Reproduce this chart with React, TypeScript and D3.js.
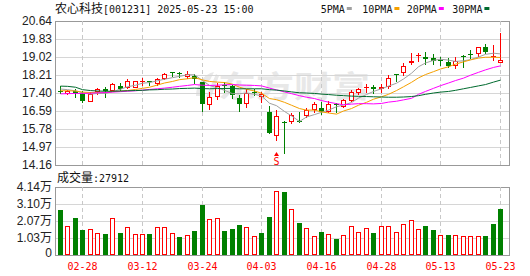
import React from "react";
import * as d3 from "d3";

const dates = [
  "02-25","02-26","02-27","02-28","03-03","03-04","03-05","03-06","03-07","03-10",
  "03-11","03-12","03-13","03-14","03-17","03-18","03-19","03-20","03-21","03-24",
  "03-25","03-26","03-27","03-28","03-31","04-01","04-02","04-03","04-07","04-08",
  "04-09","04-10","04-11","04-14","04-15","04-16","04-17","04-18","04-21","04-22",
  "04-23","04-24","04-25","04-28","04-29","04-30","05-06","05-07","05-08","05-09",
  "05-12","05-13","05-14","05-15","05-16","05-19","05-20","05-21","05-22","05-23",
];

const openP = [
  17.48,17.39,17.48,17.41,17.05,17.47,17.60,17.52,17.71,17.67,
  17.67,17.95,17.95,17.84,18.09,18.33,18.28,18.18,18.15,17.88,
  16.92,17.28,17.74,17.70,17.19,16.94,17.43,17.26,16.56,15.50,
  16.11,16.14,16.16,16.39,16.66,16.71,16.57,16.91,16.83,17.07,
  17.43,17.66,17.68,17.64,17.70,18.25,18.33,18.81,19.11,19.02,
  18.96,18.89,18.81,18.67,19.05,19.15,19.21,19.49,19.06,18.80,
];
const highP = [
  17.73,17.52,17.57,17.49,17.45,17.63,17.66,17.83,17.84,18.01,
  17.96,18.06,17.96,18.06,18.28,18.34,18.36,18.39,18.24,17.91,
  17.43,17.87,17.89,17.76,17.31,17.60,17.60,17.46,16.83,16.63,
  16.13,16.51,16.56,16.74,17.00,16.98,17.02,16.94,17.15,17.52,
  17.64,17.80,17.76,17.80,18.21,18.27,18.74,19.22,19.21,19.23,
  19.14,19.02,18.96,19.00,19.09,19.34,19.47,19.59,19.56,20.09,
];
const lowP = [
  17.41,17.37,17.20,16.99,17.03,17.34,17.23,17.50,17.53,17.63,
  17.65,17.78,17.75,17.76,18.05,18.15,18.14,18.06,17.86,16.60,
  16.67,17.12,17.43,17.17,16.60,16.75,17.33,17.01,15.62,15.28,
  14.71,16.04,16.08,16.33,16.55,16.44,16.53,16.56,16.75,17.03,
  17.34,17.45,17.40,17.44,17.64,17.95,18.23,18.71,18.85,18.69,
  18.69,18.65,18.58,18.51,18.58,18.96,19.05,19.19,18.88,18.78,
];
const closeP = [
  17.43,17.49,17.41,17.05,17.36,17.59,17.50,17.80,17.58,17.92,
  17.94,17.96,17.93,18.02,18.25,18.31,18.26,18.27,18.02,16.92,
  17.23,17.72,17.70,17.29,16.90,17.39,17.41,17.36,15.62,16.37,
  16.08,16.40,16.14,16.63,16.92,16.56,16.89,16.88,17.07,17.46,
  17.57,17.68,17.57,17.67,18.06,18.23,18.62,18.85,19.13,18.92,
  18.85,18.87,18.63,18.85,19.03,19.13,19.46,19.24,19.08,18.89,
];
const volume = [
  27400,17500,22300,15200,15600,13200,12600,22300,13200,16900,
  12600,12600,12600,16900,16900,13200,11000,12000,14600,30400,
  21700,22300,14600,15800,18300,16900,11600,13200,23100,38800,
  38400,27800,19500,16200,11600,14000,12800,9900,12000,17500,
  14000,16200,13400,17500,17500,13800,18700,21100,15800,17700,
  15200,12000,12200,12000,11400,11400,11400,11600,18900,27912,
];
// 1 = up day (red), 0 = down day (green), as coloured in the volume panel
const volUp = [
  0,1,0,0,1,1,0,1,0,1,
  1,1,0,1,1,1,0,1,0,0,
  1,1,0,0,0,1,1,0,0,1,
  0,1,0,1,1,0,1,0,1,1,
  1,1,0,1,1,1,1,1,1,0,
  0,1,0,1,1,1,1,0,0,0,
];
const ma5 = [
  17.58,17.55,17.50,17.41,17.35,17.38,17.38,17.46,17.57,17.68,
  17.75,17.84,17.87,17.95,18.02,18.09,18.15,18.22,18.22,17.96,
  17.74,17.63,17.52,17.37,17.37,17.40,17.34,17.27,16.94,16.83,
  16.57,16.37,16.12,16.32,16.43,16.53,16.63,16.78,16.86,16.97,
  17.17,17.33,17.47,17.59,17.71,17.84,18.03,18.29,18.58,18.75,
  18.87,18.92,18.88,18.82,18.85,18.90,19.02,19.14,19.19,19.16,
];
const ma10 = [
  17.50,17.50,17.49,17.44,17.42,17.43,17.43,17.46,17.48,17.51,
  17.56,17.61,17.66,17.76,17.85,17.92,18.00,18.04,18.09,17.99,
  17.92,17.89,17.87,17.80,17.66,17.57,17.49,17.39,17.15,17.10,
  16.98,16.85,16.70,16.63,16.63,16.55,16.50,16.45,16.59,16.70,
  16.85,16.98,17.12,17.23,17.34,17.51,17.68,17.88,18.08,18.23,
  18.36,18.48,18.58,18.70,18.80,18.89,18.97,19.01,19.01,19.00,
];
const ma20 = [
  17.36,17.37,17.38,17.38,17.39,17.41,17.42,17.44,17.46,17.48,
  17.50,17.53,17.56,17.59,17.62,17.66,17.70,17.74,17.78,17.75,
  17.74,17.75,17.77,17.78,17.76,17.75,17.74,17.72,17.62,17.54,
  17.45,17.37,17.28,17.21,17.15,17.06,16.99,16.92,16.87,16.90,
  16.92,16.92,16.91,16.93,16.99,17.03,17.09,17.16,17.34,17.47,
  17.61,17.73,17.85,17.96,18.07,18.20,18.33,18.44,18.55,18.62,
];
const ma30 = [
  17.71,17.70,17.66,17.55,17.51,17.49,17.48,17.48,17.49,17.50,
  17.51,17.52,17.54,17.55,17.57,17.58,17.60,17.61,17.62,17.60,
  17.59,17.60,17.60,17.60,17.59,17.59,17.59,17.59,17.55,17.53,
  17.49,17.45,17.41,17.40,17.38,17.35,17.33,17.30,17.28,17.26,
  17.25,17.24,17.23,17.22,17.21,17.21,17.22,17.24,17.28,17.34,
  17.40,17.44,17.47,17.52,17.59,17.65,17.72,17.78,17.89,17.98,
];

const priceTicks = [14.16, 14.97, 15.78, 16.59, 17.40, 18.21, 19.02, 19.83, 20.64];
const volTicks = [0, 10350, 20700, 31050, 41400];
const volTickLabels = ["0", "1.03万", "2.07万", "3.10万", "4.14万"];
const xLabels = ["02-28", "03-12", "03-24", "04-03", "04-16", "04-28", "05-13", "05-23"];
const maNames = ["5PMA", "10PMA", "20PMA", "30PMA"];
const titleName = "农心科技";
const titleRest = "[001231] 2025-05-23 15:00";
const volLabel = "成交量";
const volLabelValue = ":27912";
const signalDate = "04-08";
const signalText = "S";
const watermark = "东方财富";

const RED = "#ff0000";
const GREEN = "#008000";
const maColors = ["#a0a0a0", "#f5a000", "#ff00ff", "#006a2e"];
const MONO = "'DejaVu Sans Mono', 'Liberation Mono', monospace";
const CJK = "'Noto Sans CJK SC', sans-serif";
const SANS = "'Liberation Sans', Arial, 'Noto Sans CJK SC', sans-serif";

const L = 55, R = 509, PT = 21, PB = 165, VT = 187, VB = 255;

export default function App() {
  const n = dates.length;
  const x = d3.scaleLinear().domain([0, n - 1]).range([60, 500]);
  const y = d3.scaleLinear().domain([priceTicks[0], priceTicks[priceTicks.length - 1]]).range([PB, PT]);
  const yv = d3.scaleLinear().domain([0, volTicks[volTicks.length - 1]]).range([VB, VT]);
  const cx = (i: number) => Math.round(x(i)) + 0.5;
  const ry = (v: number) => Math.round(y(v));

  const mas = [ma5, ma10, ma20, ma30];
  const line = d3.line<number>().x((_, i) => cx(i)).y((v) => y(v));

  const legendX = [320.7, 362.3, 406.7, 452.3];
  const sIdx = dates.indexOf(signalDate);

  return (
    <div style={{ position: "absolute", left: 0, top: 0 }}>
      <svg width={530} height={276} style={{ display: "block", background: "#fff" }}>
        {/* watermark */}
        <g fill="#e8e8e8">
          <path d="M196,96 C196,84 204,74 214,72 L210,80 C205,82 202,88 203,96 Z M206,97 L216,74 L219,76 L211,97 Z" />
          <text x={218} y={97} fontFamily={CJK} fontSize={30} fontWeight={700} textLength={152} lengthAdjust="spacingAndGlyphs">{watermark}</text>
        </g>

        {/* price grid */}
        {priceTicks.map((t, k) => (
          <line key={"pg" + k} x1={L} x2={R} y1={ry(t) + 0.5} y2={ry(t) + 0.5}
            stroke={k === 0 || k === priceTicks.length - 1 ? "#999" : "#d6d6d6"} shapeRendering="crispEdges" />
        ))}
        {volTicks.map((t, k) => (
          <line key={"vg" + k} x1={L} x2={R} y1={Math.round(yv(t)) + 0.5} y2={Math.round(yv(t)) + 0.5}
            stroke={k === 0 || k === volTicks.length - 1 ? "#999" : "#d6d6d6"} shapeRendering="crispEdges" />
        ))}
        {xLabels.map((d) => {
          const i = dates.indexOf(d);
          return (
            <g key={"vl" + d}>
              <line x1={cx(i)} x2={cx(i)} y1={PT} y2={PB} stroke="#c8c8c8" strokeDasharray="4,3" shapeRendering="crispEdges" />
              <line x1={cx(i)} x2={cx(i)} y1={VT} y2={VB} stroke="#c8c8c8" strokeDasharray="4,3" shapeRendering="crispEdges" />
            </g>
          );
        })}
        <line x1={L + 0.5} x2={L + 0.5} y1={PT} y2={PB + 1} stroke="#999" shapeRendering="crispEdges" />
        <line x1={R + 0.5} x2={R + 0.5} y1={PT} y2={PB + 1} stroke="#999" shapeRendering="crispEdges" />
        <line x1={L + 0.5} x2={L + 0.5} y1={VT} y2={VB + 1} stroke="#999" shapeRendering="crispEdges" />
        <line x1={R + 0.5} x2={R + 0.5} y1={VT} y2={VB + 1} stroke="#999" shapeRendering="crispEdges" />

        {/* candles */}
        {dates.map((d, i) => {
          const o = openP[i], c = closeP[i], h = highP[i], l = lowP[i];
          const X = cx(i);
          const up = c >= o;
          const yo = ry(o), yc = ry(c);
          if (up) {
            const top = Math.min(yo, yc), bot = Math.max(yo, yc);
            return (
              <g key={"c" + i} shapeRendering="crispEdges">
                <line x1={X} x2={X} y1={ry(h)} y2={ry(l) + 1} stroke={RED} />
                {bot - top >= 2 ? (
                  <rect x={X - 2} y={top + 0.5} width={4} height={bot - top} fill="#fff" stroke={RED} />
                ) : (
                  <rect x={X - 2.5} y={top} width={5} height={Math.max(1, bot - top + 1)} fill={RED} />
                )}
              </g>
            );
          }
          return (
            <g key={"c" + i} shapeRendering="crispEdges">
              <line x1={X} x2={X} y1={ry(h)} y2={ry(l) + 1} stroke={GREEN} />
              <rect x={X - 2.5} y={yo} width={5} height={Math.max(1, yc - yo)} fill={GREEN} />
            </g>
          );
        })}

        {/* moving averages */}
        {mas.map((m, k) => (
          <path key={"ma" + k} d={line(m) || ""} fill="none" stroke={maColors[k]} strokeWidth={1} />
        ))}

        {/* signal marker */}
        <g fill={RED}>
          <path d={`M${cx(sIdx)},${152} L${cx(sIdx) - 2.5},${156} L${cx(sIdx) + 2.5},${156} Z`} />
          <text x={cx(sIdx)} y={164.5} textAnchor="middle" fontFamily={MONO} fontSize={10}>{signalText}</text>
        </g>

        {/* volume bars */}
        {volume.map((v, i) => {
          const X = cx(i);
          const top = Math.round(yv(v));
          if (volUp[i]) {
            return <rect key={"v" + i} x={X - 2} y={top + 0.5} width={4} height={VB - top - 1} fill="#fff" stroke={RED} shapeRendering="crispEdges" />;
          }
          return <rect key={"v" + i} x={X - 2.5} y={top} width={5} height={VB - top} fill={GREEN} shapeRendering="crispEdges" />;
        })}

        {/* y labels */}
        {priceTicks.map((t) => (
          <text key={"pl" + t} x={52} y={y(t)} dy="0.36em" textAnchor="end" fontFamily={SANS} fontSize={12} fill="#222">{t.toFixed(2)}</text>
        ))}
        {volTicks.map((t, k) => (
          <text key={"vtl" + k} x={52} y={k === 0 ? yv(t) - 2 : yv(t)} dy="0.36em" textAnchor="end" fontFamily={SANS} fontSize={12} fill="#222">{volTickLabels[k]}</text>
        ))}

        {/* x labels */}
        {xLabels.map((d) => (
          <text key={"xl" + d} x={cx(dates.indexOf(d))} y={270} textAnchor="middle" fontFamily={MONO} fontSize={10} fill={RED}>{d}</text>
        ))}

        {/* title */}
        <text x={55} y={13} fill="#111">
          <tspan fontFamily={CJK} fontSize={12}>{titleName}</tspan>
          <tspan fontFamily={MONO} fontSize={10}>{titleRest}</tspan>
        </text>

        {/* legend */}
        {maNames.map((nm, k) => (
          <g key={"lg" + k}>
            <text x={legendX[k]} y={13} fontFamily={MONO} fontSize={10} fill="#111">{nm}</text>
            <rect x={legendX[k] + nm.length * 6.02 + 2} y={7} width={5} height={3} fill={maColors[k]} />
          </g>
        ))}

        {/* volume label */}
        <text x={57} y={182} fill="#111">
          <tspan fontFamily={CJK} fontSize={12}>{volLabel}</tspan>
          <tspan fontFamily={MONO} fontSize={10}>{volLabelValue}</tspan>
        </text>
      </svg>
    </div>
  );
}
